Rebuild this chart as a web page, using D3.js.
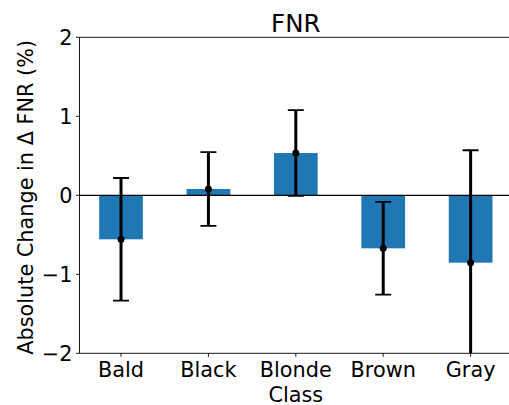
<!DOCTYPE html>
<html><head><meta charset="utf-8">
<script src="https://cdn.jsdelivr.net/npm/d3@7"></script>
<style>body{margin:0;background:#fff;} text{font-family:"DejaVu Sans",sans-serif;}</style>
</head><body>
<svg id="c" width="509" height="405"></svg>
<script>
const categories = ["Bald","Black","Blonde","Brown","Gray"];
const values = [-0.557, 0.08, 0.535, -0.671, -0.853];
const errors = [0.776, 0.466, 0.543, 0.587, 1.423];
const yTicks = [-2,-1,0,1,2];
const title = "FNR", xLabel = "Class", yLabel = "Absolute Change in \u0394 FNR (%)";

const svg = d3.select("#c");
const L = 79.5, T = 37.3, B = 353.3, step = 87.4;
const x = d3.scaleLinear().domain([-0.475, 4.475]).range([L, L + 4.95*step]);
const y = d3.scaleLinear().domain([-2, 2]).range([B, T]);
const barW = 0.5;
const fs = 20.8;

svg.append("clipPath").attr("id","pc").append("rect")
  .attr("x", L).attr("y", T).attr("width", 600).attr("height", B - T);

const g = svg.append("g").attr("clip-path","url(#pc)");
g.selectAll("rect.bar").data(values).join("rect").attr("class","bar")
  .attr("x",(d,i)=>x(i-barW/2)).attr("width",x(barW)-x(0))
  .attr("y",d=>y(Math.max(0,d))).attr("height",d=>Math.abs(y(d)-y(0)))
  .attr("fill","#1f77b4");

g.append("line").attr("x1",L).attr("x2",509).attr("y1",y(0)).attr("y2",y(0))
  .attr("stroke","#000").attr("stroke-width",1.3);

const eb = g.selectAll("g.eb").data(values).join("g").attr("class","eb");
eb.append("line").attr("x1",(d,i)=>x(i)).attr("x2",(d,i)=>x(i))
  .attr("y1",(d,i)=>y(d+errors[i])).attr("y2",(d,i)=>y(d-errors[i]))
  .attr("stroke","#000").attr("stroke-width",3);
[1,-1].forEach(s=>{
  eb.append("line").attr("x1",(d,i)=>x(i)-8).attr("x2",(d,i)=>x(i)+8)
    .attr("y1",(d,i)=>y(d+s*errors[i])).attr("y2",(d,i)=>y(d+s*errors[i]))
    .attr("stroke","#000").attr("stroke-width",1.8);
});
eb.append("circle").attr("cx",(d,i)=>x(i)).attr("cy",d=>y(d)).attr("r",3.5).attr("fill","#000");

// spines
const sp = svg.append("g").attr("stroke","#000").attr("stroke-width",0.9);
sp.append("line").attr("x1",L).attr("x2",L).attr("y1",T).attr("y2",B);
sp.append("line").attr("x1",L).attr("x2",509).attr("y1",T).attr("y2",T);
sp.append("line").attr("x1",L).attr("x2",509).attr("y1",B).attr("y2",B);

// y axis ticks
const yt = svg.append("g");
yt.selectAll("line").data(yTicks).join("line")
  .attr("x1",L-3.5).attr("x2",L).attr("y1",d=>y(d)).attr("y2",d=>y(d))
  .attr("stroke","#000").attr("stroke-width",0.9);
yt.selectAll("text").data(yTicks).join("text")
  .attr("x",L-7).attr("y",d=>y(d)).attr("dy","0.36em").attr("text-anchor","end")
  .attr("font-size",fs).text(d=>d<0?"\u2212"+Math.abs(d):d);

// x axis ticks
const xt = svg.append("g");
xt.selectAll("line").data(categories).join("line")
  .attr("x1",(d,i)=>x(i)).attr("x2",(d,i)=>x(i)).attr("y1",B).attr("y2",B+3.5)
  .attr("stroke","#000").attr("stroke-width",0.9);
xt.selectAll("text").data(categories).join("text")
  .attr("x",(d,i)=>x(i)).attr("y",376.5).attr("text-anchor","middle")
  .attr("font-size",fs).text(d=>d);

svg.append("text").attr("x",x(2)).attr("y",401.5).attr("text-anchor","middle")
  .attr("font-size",fs).text(xLabel);
svg.append("text").attr("x",x(2)).attr("y",31.8).attr("text-anchor","middle")
  .attr("font-size",24.5).text(title);
svg.append("text").attr("transform",`translate(33,${(T+B)/2+2}) rotate(-90)`)
  .attr("text-anchor","middle").attr("font-size",fs).text(yLabel);
</script>
</body></html>
